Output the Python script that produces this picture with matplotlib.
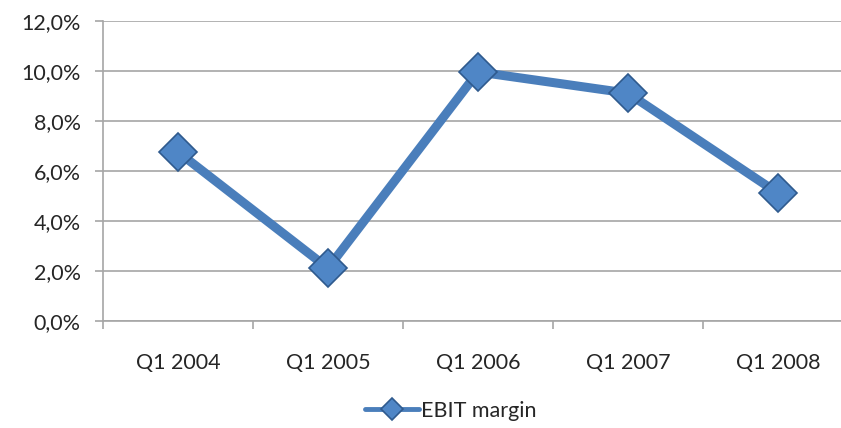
import matplotlib
matplotlib.use("Agg")
import matplotlib.pyplot as plt
from matplotlib.ticker import FuncFormatter

quarters = ["Q1 2004", "Q1 2005", "Q1 2006", "Q1 2007", "Q1 2008"]
ebit_margin = [6.75, 2.1, 9.95, 9.1, 5.1]   # percent

plt.rcParams['font.family'] = ['Lato', 'DejaVu Sans']

fig = plt.figure(figsize=(8.41, 4.28), dpi=100)
# axes run past the right edge, like the cropped original
ax = fig.add_axes([103 / 841, 0.2507, 750 / 841, 0.701])

line_col = "#4a7ebb"
x = range(len(quarters))
ax.plot(x, ebit_margin, color=line_col, lw=6.5, solid_capstyle="round",
        marker="D", markersize=19, markerfacecolor="#4f86c6",
        markeredgecolor="#2f5a8e", markeredgewidth=1.2, label="EBIT margin")

ax.set_xlim(-0.5, len(quarters) - 0.5)
ax.set_ylim(0, 12)
ax.set_yticks(range(0, 13, 2))
ax.yaxis.set_major_formatter(FuncFormatter(lambda v, p: f"{v:.1f}%".replace(".", ",")))
ax.set_xticks([i - 0.5 for i in range(len(quarters))])
ax.set_xticklabels([])
ax.set_xticks(list(x), minor=True)
ax.set_xticklabels(quarters, minor=True)

grid_col = "#a6a6a6"
ax.grid(axis="y", color=grid_col, lw=1.2)
ax.set_axisbelow(True)
for s in ["top", "right"]:
    ax.spines[s].set_visible(False)
for s in ["left", "bottom"]:
    ax.spines[s].set_color(grid_col)
    ax.spines[s].set_linewidth(1.2)

ax.tick_params(axis="y", which="major", length=6, color=grid_col, width=1.2,
               pad=10, labelsize=15.5, labelcolor="#262626")
ax.tick_params(axis="x", which="major", length=6, color=grid_col, width=1.2)
ax.tick_params(axis="x", which="minor", length=0, pad=23, labelsize=15.5,
               labelcolor="#262626")

leg = fig.legend(loc="center", bbox_to_anchor=(451 / 841, 1 - 411 / 428),
                 frameon=False, fontsize=15.5, handlelength=2.5, handletextpad=0.1,
                 markerscale=0.6)
for h in leg.legend_handles:
    h.set_linewidth(3.5)
for t in leg.get_texts():
    t.set_color("#262626")

fig.savefig("out.png", dpi=100)
